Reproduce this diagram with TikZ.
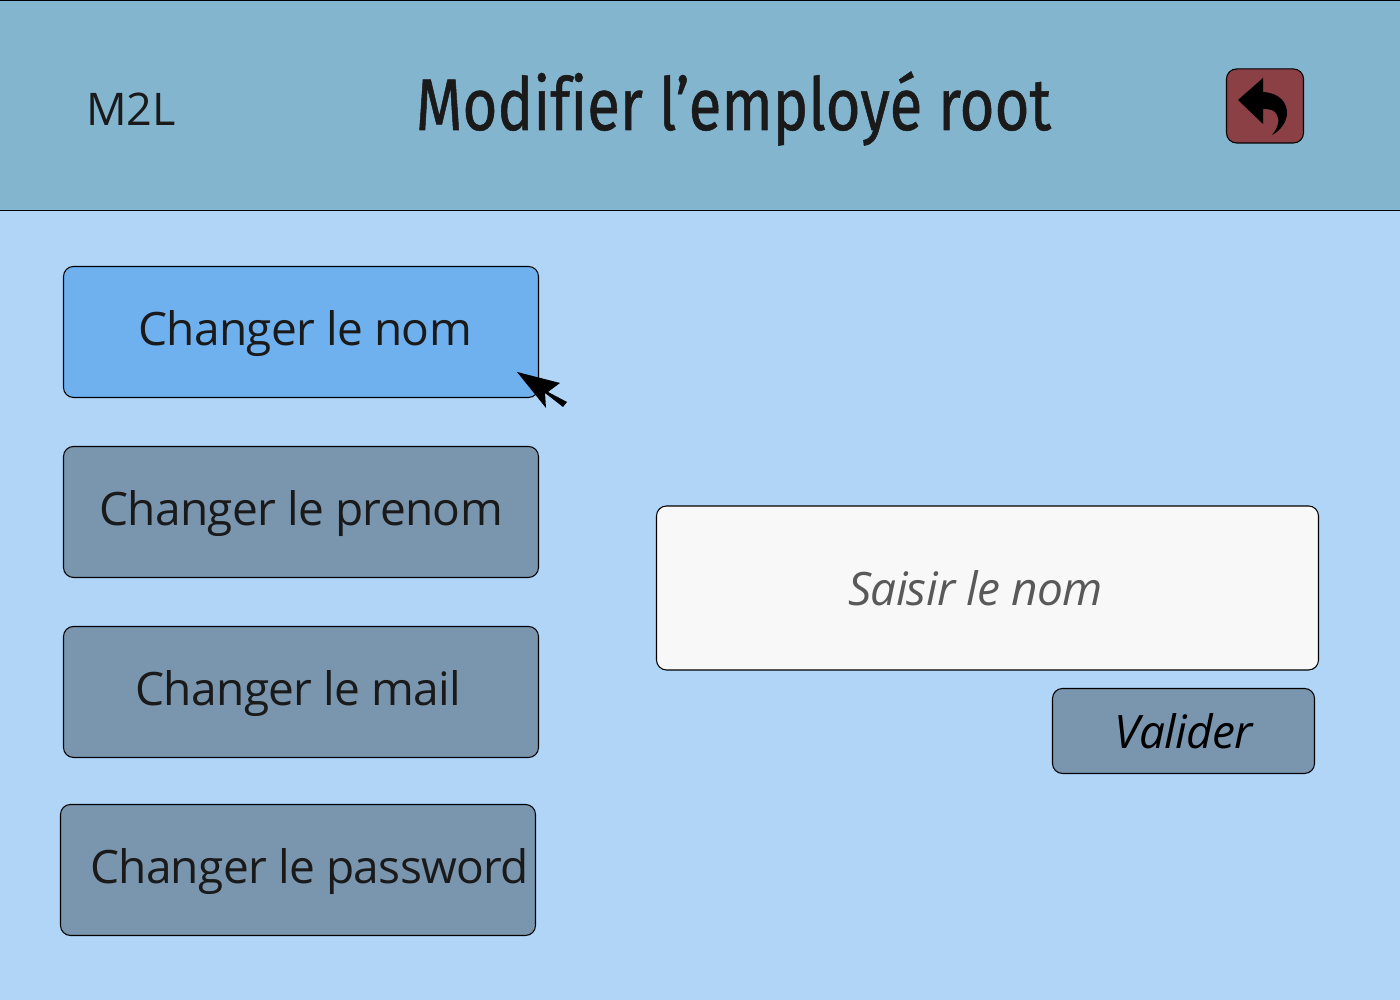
\documentclass[tikz,border=0pt]{standalone}
\usepackage{fontspec}
\setmainfont{Open Sans}
\newfontfamily\titlefont{Fira Sans}[Ligatures=NoCommon,FakeBold=0.8]
\usepackage{tikz}
\usepackage{xcolor}
\usepackage{graphicx}
\definecolor{fond}{HTML}{B0D5F7}
\definecolor{entete}{HTML}{84B5CE}
\definecolor{actif}{HTML}{6EB1EE}
\definecolor{gris}{HTML}{7A95AE}
\definecolor{saisie}{HTML}{F8F8F8}
\definecolor{retour}{HTML}{8A4045}
\definecolor{encre}{HTML}{1A1A1A}
\begin{document}
\begin{tikzpicture}
      \useasboundingbox(0,0) rectangle (14,10);
      \tikzset{B/.style = {shape=rectangle, draw=black, line width=0.3pt, rounded corners=0.1cm, inner sep=0pt, minimum width=4.75cm, minimum height=1.31cm, fill=gris}}
      \tikzset{T/.style = {text=encre, inner sep=0pt, font=\fontsize{13.1}{15}\selectfont\addfontfeatures{LetterSpace=-1.5}}}
      \fill[fond] (0,0) rectangle (14,10);
      \node[draw=black,line width=0.25pt,fill=entete,minimum width=14.2cm,minimum height=2.105cm,inner sep=0pt](header) at (7,8.9475) {};
      \node[T,font=\fontsize{12.8}{15}\selectfont](m2l) at (1.31,8.91) {M2L};
      \node[text=encre,inner sep=0pt,anchor=base](title) at (7.335,8.70) {\scalebox{0.82}[1]{\titlefont\fontsize{20.8}{26}\selectfont Modifier l’employé root}};
      \node[B,fill=retour,minimum width=0.77cm,minimum height=0.74cm](back) at (12.65,8.94) {};
      \node[B,fill=actif](bnom) at (3.01,6.68) {};
      \node[B](bprenom) at (3.01,4.88) {};
      \node[B](bmail) at (3.01,3.08) {};
      \node[B](bpass) at (2.98,1.30) {};
      \node[B,fill=saisie,minimum width=6.62cm,minimum height=1.64cm](saisir) at (9.875,4.12) {};
      \node[B,minimum width=2.62cm,minimum height=0.85cm](valider) at (11.835,2.69) {};
      \node[T](tnom) at (3.05,6.665) {Changer le nom};
      \node[T](tprenom) at (3.01,4.865) {Changer le prenom};
      \node[T](tmail) at (2.985,3.065) {Changer le mail};
      \node[T](tpass) at (3.095,1.285) {Changer le password};
      \node[T,text=black!65,font=\fontsize{13.1}{15}\itshape\selectfont\addfontfeatures{LetterSpace=-1.5}](tsaisir) at (9.755,4.12) {Saisir le nom};
      \node[T,text=black,font=\fontsize{13.1}{15}\itshape\selectfont\addfontfeatures{LetterSpace=-1.5}](tvalider) at (11.84,2.69) {Valider};
      % fleche de retour
      \fill[black] (12.38,9.00) -- (12.63,9.22) -- (12.63,9.08) .. controls (12.80,9.07) and (12.87,8.97) .. (12.87,8.87) .. controls (12.87,8.78) and (12.80,8.69) .. (12.72,8.65) .. controls (12.78,8.72) and (12.80,8.80) .. (12.77,8.85) .. controls (12.75,8.90) and (12.70,8.91) .. (12.63,8.91) -- (12.63,8.76) -- cycle;
      % curseur
      \fill[black] (5.17,6.28) -- (5.60,6.17) -- (5.48,6.08) -- (5.67,5.98) -- (5.63,5.93) -- (5.45,6.07) -- (5.46,5.92) -- cycle;
    \end{tikzpicture}
\end{document}
